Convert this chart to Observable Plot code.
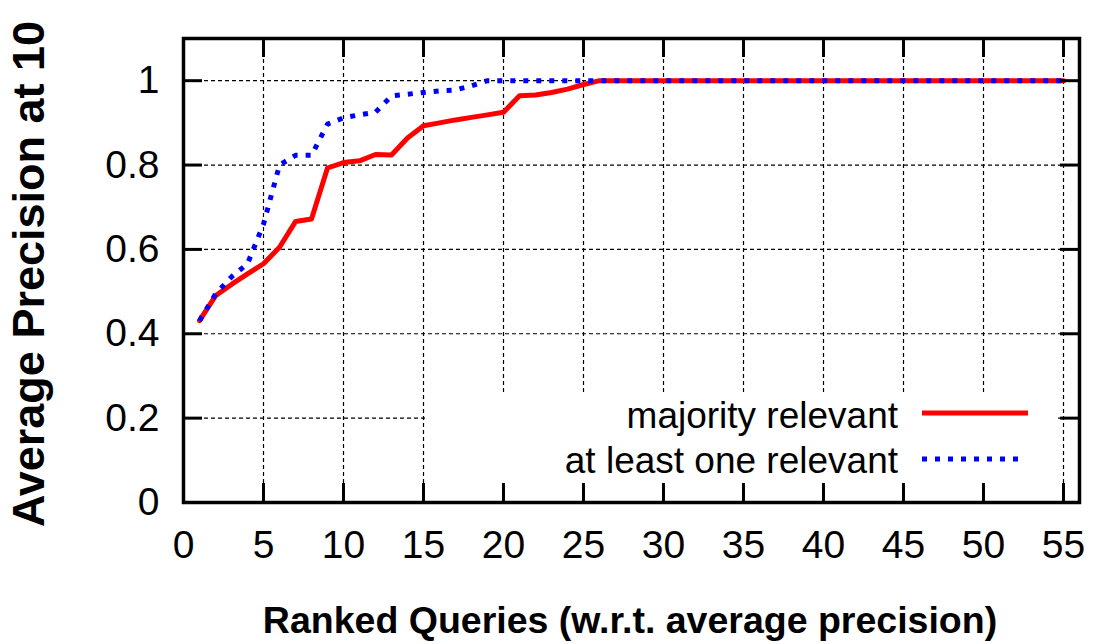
<!DOCTYPE html>
<html><head><meta charset="utf-8">
<script src="https://cdn.jsdelivr.net/npm/d3@7"></script>
<script src="https://cdn.jsdelivr.net/npm/@observablehq/plot@0.6"></script>
<style>
body{margin:0;background:#fff;}
#chart{position:relative;width:1093px;height:644px;overflow:hidden;}
</style></head><body><div id="chart"></div>
<script>
// ---- data ----
const queries = [1,2,3,4,5,6,7,8,9,10,11,12,13,14,15,16,17,18,19,20,21,22,23,24,25,26,27,28,29,30,31,32,33,34,35,36,37,38,39,40,41,42,43,44,45,46,47,48,49,50,51,52,53,54,55];
const majorityRelevant = [0.431,0.49,0.517,0.542,0.566,0.605,0.666,0.672,0.793,0.806,0.81,0.825,0.824,0.864,0.893,0.9,0.907,0.913,0.919,0.925,0.964,0.966,0.972,0.98,0.991,1,1,1,1,1,1,1,1,1,1,1,1,1,1,1,1,1,1,1,1,1,1,1,1,1,1,1,1,1,1];
const atLeastOneRelevant = [0.431,0.494,0.535,0.566,0.66,0.8,0.823,0.823,0.897,0.912,0.919,0.925,0.964,0.968,0.972,0.976,0.978,0.988,1,1,1,1,1,1,1,1,1,1,1,1,1,1,1,1,1,1,1,1,1,1,1,1,1,1,1,1,1,1,1,1,1,1,1,1,1];
const xTicks = [0,5,10,15,20,25,30,35,40,45,50,55];
const yTicks = [0,0.2,0.4,0.6,0.8,1];
const seriesNames = ["majority relevant","at least one relevant"];
const seriesColors = ["#ff0000","#0000ff"];
const xLabel = "Ranked Queries (w.r.t. average precision)";
const yLabel = "Average Precision at 10";

// ---- layout ----
const FONT = "'Liberation Sans',Arial,Helvetica,sans-serif";
const W = 1093, H = 644, mt = 38, mb = 142, ml = 183, mr = 14;
const plotH = H - mt - mb, plotW = W - ml - mr;
const TICK = 19;

const gridStyle = {stroke:"#000", strokeOpacity:1, strokeWidth:1.2, strokeDasharray:"4,3"};
const tickStyle = {stroke:"#000", strokeWidth:3};
const blueDash = "5,8";

const chart = Plot.plot({
  width: W, height: H,
  marginTop: mt, marginBottom: mb, marginLeft: ml, marginRight: mr,
  style: {fontFamily: FONT, fontSize: "39px", color: "#000", background: "#fff"},
  x: {domain: [0, 56], ticks: xTicks, tickSize: 0, tickPadding: 28, label: null, tickFormat: d => String(d)},
  y: {domain: [0, 1.1], ticks: yTicks, tickSize: 0, tickPadding: 24, label: null, tickFormat: d => String(d)},
  marks: [
    Plot.gridX(xTicks, gridStyle),
    Plot.gridY(yTicks, gridStyle),
    Plot.line(queries, {x: d => d, y: (d, i) => majorityRelevant[i], stroke: seriesColors[0], strokeWidth: 5}),
    Plot.line(queries, {x: d => d, y: (d, i) => atLeastOneRelevant[i], stroke: seriesColors[1], strokeWidth: 5, strokeDasharray: blueDash, strokeLinecap: "butt"}),
    Plot.ruleX(xTicks, {x: d => d, insetTop: plotH - TICK, ...tickStyle}),
    Plot.ruleX(xTicks, {x: d => d, insetBottom: plotH - TICK, ...tickStyle}),
    Plot.ruleY(yTicks, {y: d => d, insetRight: plotW - TICK, ...tickStyle}),
    Plot.ruleY(yTicks, {y: d => d, insetLeft: plotW - TICK, ...tickStyle}),
    Plot.frame({stroke: "#000", strokeWidth: 3.5})
  ]
});
document.getElementById("chart").appendChild(chart);

const svg = d3.select(chart);
// legend background (blanks the grid behind the key), placed just above the grid
svg.insert("rect", 'g[aria-label="line"]')
  .attr("x", 428).attr("y", 392).attr("width", 630).attr("height", 92).attr("fill", "#fff");

const legend = svg.append("g").attr("font-family", FONT).attr("font-size", 37).attr("fill", "#000");
const rowsY = [428, 473];
const sampleY = [413, 459];
seriesNames.forEach((name, i) => {
  legend.append("text").attr("x", 898).attr("y", rowsY[i]).attr("text-anchor", "end").text(name);
  legend.append("line").attr("x1", 922).attr("x2", i === 0 ? 1028 : 1024)
    .attr("y1", sampleY[i]).attr("y2", sampleY[i])
    .attr("stroke", seriesColors[i]).attr("stroke-width", 5)
    .attr("stroke-dasharray", i === 0 ? null : blueDash);
});

svg.append("text").attr("x", 630).attr("y", 633).attr("text-anchor", "middle")
  .attr("font-family", FONT).attr("font-weight", "bold").attr("font-size", 37.5).attr("fill", "#000")
  .text(xLabel);
svg.append("text").attr("transform", "translate(44,274) rotate(-90)").attr("text-anchor", "middle")
  .attr("font-family", FONT).attr("font-weight", "bold").attr("font-size", 45).attr("fill", "#000")
  .text(yLabel);
</script>
</body></html>
